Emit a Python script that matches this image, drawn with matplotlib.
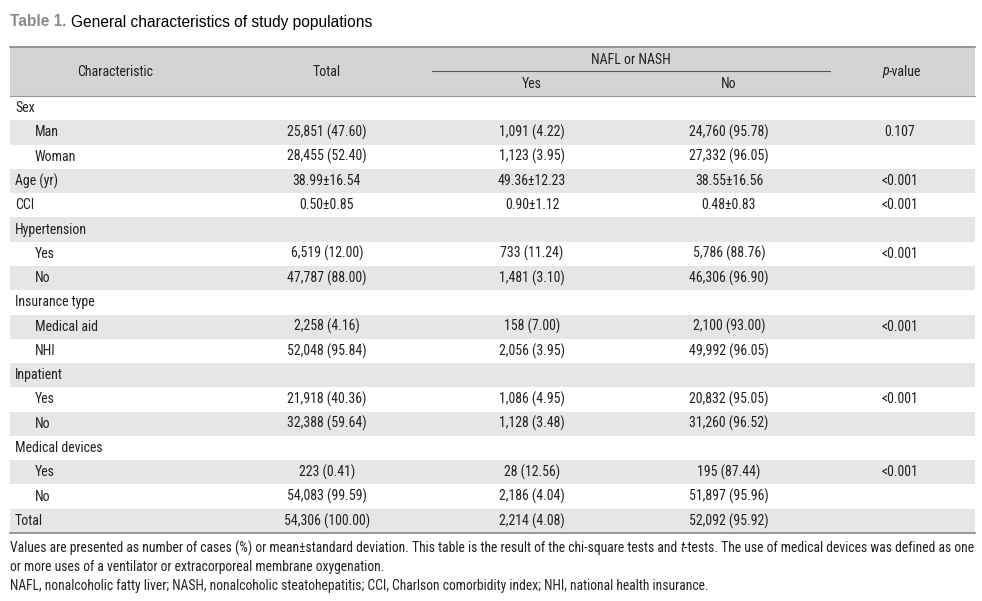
import matplotlib
matplotlib.use("Agg")
import matplotlib.pyplot as plt
from matplotlib import font_manager as fm

# ---------------- data ----------------
title_label = "Table 1."
title_text = "General characteristics of study populations"
header_char = "Characteristic"
header_total = "Total"
header_group = "NAFL or NASH"
header_yes = "Yes"
header_no = "No"

row_labels = ["Sex", "Man", "Woman", "Age (yr)", "CCI", "Hypertension", "Yes", "No",
              "Insurance type", "Medical aid", "NHI", "Inpatient", "Yes", "No",
              "Medical devices", "Yes", "No", "Total"]
row_indent = [0, 1, 1, 0, 0, 0, 1, 1, 0, 1, 1, 0, 1, 1, 0, 1, 1, 0]
col_total = ["", "25,851 (47.60)", "28,455 (52.40)", "38.99±16.54", "0.50±0.85", "",
             "6,519 (12.00)", "47,787 (88.00)", "", "2,258 (4.16)", "52,048 (95.84)", "",
             "21,918 (40.36)", "32,388 (59.64)", "", "223 (0.41)", "54,083 (99.59)",
             "54,306 (100.00)"]
col_yes = ["", "1,091 (4.22)", "1,123 (3.95)", "49.36±12.23", "0.90±1.12", "",
           "733 (11.24)", "1,481 (3.10)", "", "158 (7.00)", "2,056 (3.95)", "",
           "1,086 (4.95)", "1,128 (3.48)", "", "28 (12.56)", "2,186 (4.04)", "2,214 (4.08)"]
col_no = ["", "24,760 (95.78)", "27,332 (96.05)", "38.55±16.56", "0.48±0.83", "",
          "5,786 (88.76)", "46,306 (96.90)", "", "2,100 (93.00)", "49,992 (96.05)", "",
          "20,832 (95.05)", "31,260 (96.52)", "", "195 (87.44)", "51,897 (95.96)",
          "52,092 (95.92)"]
col_p = ["", "0.107", "", "<0.001", "<0.001", "", "<0.001", "", "", "<0.001", "", "",
         "<0.001", "", "", "<0.001", "", ""]

foot1_a = "Values are presented as number of cases (%) or mean±standard deviation. This table is the result of the chi-square tests and "
foot1_b = "t"
foot1_c = "-tests. The use of medical devices was defined as one"
foot2 = "or more uses of a ventilator or extracorporeal membrane oxygenation."
foot3 = "NAFL, nonalcoholic fatty liver; NASH, nonalcoholic steatohepatitis; CCI, Charlson comorbidity index; NHI, national health insurance."

# ---------------- font choice ----------------
def pick_font():
    narrow = []
    for f in fm.fontManager.ttflist:
        nm = f.name.lower()
        fn = f.fname.lower()
        is_narrow = ("narrow" in nm or "condensed" in nm or "narrow" in fn or "condensed" in fn
                     or str(f.stretch) in ("condensed", "semi-condensed", "extra-condensed",
                                           "ultra-condensed"))
        if is_narrow and "mono" not in nm and "serif" not in nm.replace("sans", ""):
            narrow.append(f)
    def pref(f):
        nm = f.name.lower() + f.fname.lower()
        order = ["liberation", "roboto", "open", "noto", "dejavu"]
        for i, k in enumerate(order):
            if k in nm:
                return i
        return 9
    narrow.sort(key=pref)
    reg = [f for f in narrow if f.style == "normal" and f.weight in (400, "normal", "regular")]
    if reg:
        base = reg[0]
        ital = [f for f in narrow if f.name == base.name and f.style == "italic"
                and f.weight in (400, "normal", "regular")]
        return (fm.FontProperties(fname=base.fname),
                fm.FontProperties(fname=ital[0].fname) if ital else
                fm.FontProperties(family=base.name, style="italic"), True)
    return (fm.FontProperties(family="Liberation Sans"),
            fm.FontProperties(family="Liberation Sans", style="italic"), False)

FP, FPI, NARROW = pick_font()
plt.rcParams["font.family"] = ["Liberation Sans", "DejaVu Sans"]

# ---------------- layout ----------------
W, H = 982, 601
fig = plt.figure(figsize=(W / 100, H / 100), dpi=100)
ax = fig.add_axes([0, 0, 1, 1])
ax.set_xlim(0, W)
ax.set_ylim(H, 0)
ax.axis("off")

left, right = 10, 975
head_top, head_bot = 47, 96
row_h = (533 - 96) / len(row_labels)
x_char = 115
x_total, x_yes, x_no, x_p = 327, 532, 729, 900
fs = 10.0 if NARROW else 8.8
ffs = 9.8 if NARROW else 8.2
txt = "#222222"

def T(x, y, s, ha="center", size=fs, fp=None, **kw):
    return ax.text(x, y, s, ha=ha, va="center", fontproperties=(fp or FP).copy(),
                   fontsize=size, color=kw.pop("color", txt), **kw)

# title
t1 = ax.text(left, 22, title_label + " ", fontsize=11.2, fontweight="bold", color="#8a8a8a",
             va="center", ha="left", family="Liberation Sans")
ax.annotate(title_text, xy=(1, 0.5), xycoords=t1, va="center", ha="left",
            fontsize=11.2, color="black", family="Liberation Sans")

# header band
ax.add_patch(plt.Rectangle((left, head_top), right - left, head_bot - head_top,
                           facecolor="#d4d4d4", edgecolor="none", zorder=0))
ax.plot([left, right], [head_top, head_top], color="#888888", lw=1.2)
ax.plot([left, right], [head_bot, head_bot], color="#999999", lw=0.8)
ax.plot([432, 830], [71, 71], color="#555555", lw=0.8)
mid = (head_top + head_bot) / 2
T(x_char, mid, header_char)
T(x_total, mid, header_total)
pp = T(x_p - 18, mid, "p", ha="left", fp=FPI)
ax.annotate("-value", xy=(1, 0.5), xycoords=pp, va="center", ha="left",
            fontproperties=FP.copy(), fontsize=fs, color=txt)
T((432 + 830) / 2, 60, header_group)
T(x_yes, 84, header_yes)
T(x_no, 84, header_no)

# rows
for i, lab in enumerate(row_labels):
    top = head_bot + i * row_h
    if i % 2 == 1:
        ax.add_patch(plt.Rectangle((left, top), right - left, row_h,
                                   facecolor="#e6e6e6", edgecolor="none", zorder=0))
    yc = top + row_h / 2
    T(left + 5 + 20 * row_indent[i], yc, lab, ha="left")
    T(x_total, yc, col_total[i])
    T(x_yes, yc, col_yes[i])
    T(x_no, yc, col_no[i])
    T(x_p, yc, col_p[i])

ax.plot([left, right], [533, 533], color="#888888", lw=1.2)

# footnotes
fa = T(left, 548, foot1_a, ha="left", size=ffs)
fb = ax.annotate(foot1_b, xy=(1, 0.5), xycoords=fa, va="center", ha="left",
                 fontproperties=FPI.copy(), fontsize=ffs, color=txt)
ax.annotate(foot1_c, xy=(1, 0.5), xycoords=fb, va="center", ha="left",
            fontproperties=FP.copy(), fontsize=ffs, color=txt)
T(left, 567, foot2, ha="left", size=ffs)
T(left, 586, foot3, ha="left", size=ffs)

fig.savefig("out.png", dpi=100)
